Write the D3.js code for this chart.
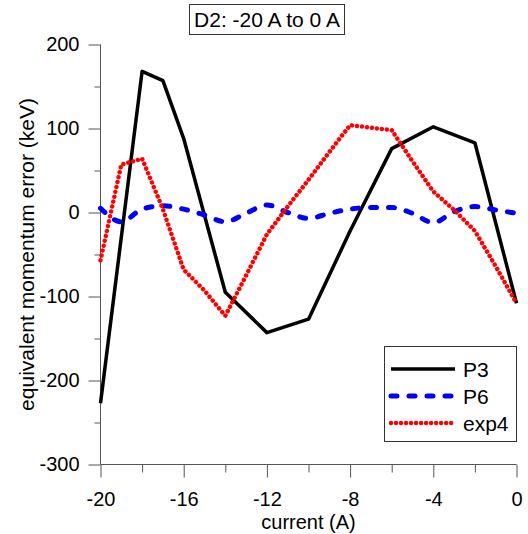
<!DOCTYPE html>
<html>
<head>
<meta charset="utf-8">
<script src="https://cdn.jsdelivr.net/npm/d3@7"></script>
<style>
  body { margin: 0; background: #fff; }
  svg { display: block; font-family: "Liberation Sans", Arial, sans-serif; }
</style>
</head>
<body>
<div id="chart"></div>
<script>
// chart data
var currentP3 = [-20, -18, -17, -16, -14, -12, -10, -8, -6, -4, -2, 0];
var valuesP3 = [-227, 168, 157, 88, -95, -143, -127, -22, 76, 102, 83, -108];

var currentStep = [-20, -19, -18, -17, -16, -15, -14, -13, -12, -11, -10,
  -9, -8, -7, -6, -5, -4, -3, -2, -1, 0];
var valuesP6 = [5, -11, 4, 8, 4, -3, -11, -1, 9, 0, -7,
  -1, 4, 6, 6, -1, -12, 1, 7, 3, -1];
var valuesExp4 = [-57, 57, 64, 4, -68, -93, -123, -75, -26, 7, 39,
  72, 104, 101, 98, 61, 25, 3, -22, -64, -108];

var xTicks = [-20, -16, -12, -8, -4, 0];
var xMinorTicks = [-18, -14, -10, -6, -2];
var yTicks = [200, 100, 0, -100, -200, -300];
var yMinorTicks = [150, 50, -50, -150, -250];

var title = 'D2: -20 A to 0 A';
var xLabel = 'current (A)';
var yLabel = 'equivalent momentum error (keV)';

var W = 528, H = 534;
var axisColor = '#555';
var plain = function(d){ return String(d); };   // keep ascii hyphen for negatives

var svg = d3.select('#chart').append('svg')
  .attr('width', W)
  .attr('height', H);

var x = d3.scaleLinear().domain([-20, 0]).range([100.5, 516.5]);
var y = d3.scaleLinear().domain([-300, 200]).range([464.5, 44.5]);

/* ---------- axes ---------- */

var gx = svg.append('g').attr('transform', 'translate(0,' + y(-300) + ')');
gx.call(d3.axisBottom(x).tickValues(xTicks).tickSize(13).tickPadding(14).tickFormat(plain));
gx.append('g').call(d3.axisBottom(x).tickValues(xMinorTicks).tickSize(8).tickFormat(''));

var gy = svg.append('g').attr('transform', 'translate(' + x(-20) + ',0)');
gy.call(d3.axisLeft(y).tickValues(yTicks).tickSize(12).tickPadding(9).tickFormat(plain));
gy.append('g').call(d3.axisLeft(y).tickValues(yMinorTicks).tickSize(6).tickFormat(''));

svg.selectAll('.domain').remove();
svg.selectAll('.tick line').attr('stroke', axisColor).attr('stroke-width', 1);
svg.selectAll('.tick text')
  .attr('fill', '#000')
  .style('font-size', '20px')
  .style('font-family', '"Liberation Sans", Arial, sans-serif');

// axis lines (left and bottom only)
svg.append('line')
  .attr('x1', x(-20)).attr('x2', x(0))
  .attr('y1', y(-300)).attr('y2', y(-300))
  .attr('stroke', axisColor);
svg.append('line')
  .attr('x1', x(-20)).attr('x2', x(-20))
  .attr('y1', y(-300)).attr('y2', y(200))
  .attr('stroke', axisColor);

svg.append('text')
  .attr('x', (x(-20) + x(0)) / 2)
  .attr('y', 529)
  .attr('text-anchor', 'middle')
  .style('font-size', '20px')
  .text(xLabel);

svg.append('text')
  .attr('transform', 'translate(34,' + (y(-300) + y(200)) / 2 + ') rotate(-90)')
  .attr('text-anchor', 'middle')
  .style('font-size', '21px')
  .text(yLabel);

/* ---------- series ---------- */

var series = [
  { name: 'P3', xs: currentP3, ys: valuesP3, color: '#000', width: 3.5, dash: null, cap: 'butt' },
  { name: 'P6', xs: currentStep, ys: valuesP6, color: '#0000ff', width: 5, dash: '6 12', cap: 'round' },
  { name: 'exp4', xs: currentStep, ys: valuesExp4, color: '#ff0000', width: 4.5, dash: '0.01 5', cap: 'round' }
];

var line = d3.line()
  .x(function(d){ return x(d[0]); })
  .y(function(d){ return y(d[1]); });

series.forEach(function(s){
  var pts = s.xs.map(function(v, i){ return [v, s.ys[i]]; });
  line.curve(s.name === 'P6' ? d3.curveMonotoneX : d3.curveLinear);
  svg.append('path')
    .attr('d', line(pts))
    .attr('fill', 'none')
    .attr('stroke', s.color)
    .attr('stroke-width', s.width)
    .attr('stroke-linejoin', 'round')
    .attr('stroke-linecap', s.cap)
    .attr('stroke-dasharray', s.dash);
});

/* ---------- legend ---------- */

var legend = svg.append('g');
legend.append('rect')
  .attr('x', 384.5).attr('y', 346.5)
  .attr('width', 132).attr('height', 95)
  .attr('fill', '#fff')
  .attr('stroke', '#333');

series.forEach(function(s, i){
  var ly = 369 + i * 27;
  legend.append('line')
    .attr('x1', 391).attr('x2', 455)
    .attr('y1', ly).attr('y2', ly)
    .attr('stroke', s.color)
    .attr('stroke-width', s.width)
    .attr('stroke-linecap', s.cap)
    .attr('stroke-dasharray', s.dash);
  legend.append('text')
    .attr('x', 463)
    .attr('y', ly + 7.5)
    .style('font-size', '21px')
    .text(s.name);
});

/* ---------- title ---------- */

svg.append('rect')
  .attr('x', 189.5).attr('y', 4.5)
  .attr('width', 155).attr('height', 30)
  .attr('fill', '#fff')
  .attr('stroke', '#333');
svg.append('text')
  .attr('x', 267)
  .attr('y', 27)
  .attr('text-anchor', 'middle')
  .style('font-size', '21px')
  .text(title);
</script>
</body>
</html>
